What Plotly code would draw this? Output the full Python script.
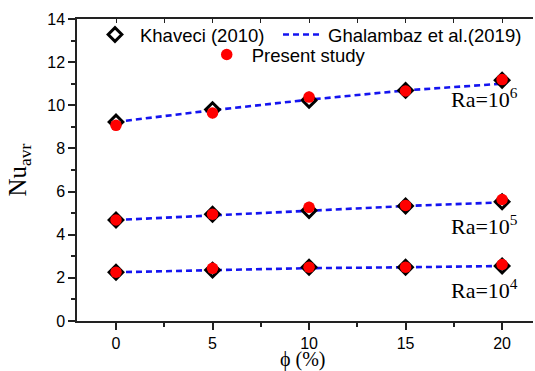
import plotly.graph_objects as go

phi = [0, 5, 10, 15, 20]
ra_labels = ["Ra=10<sup>6</sup>", "Ra=10<sup>5</sup>", "Ra=10<sup>4</sup>"]

khaveci = {
    "1e6": [9.23, 9.80, 10.23, 10.69, 11.16],
    "1e5": [4.68, 4.95, 5.12, 5.33, 5.53],
    "1e4": [2.26, 2.36, 2.49, 2.49, 2.55],
}
ghalambaz = {
    "1e6": [9.23, 9.77, 10.26, 10.69, 11.0],
    "1e5": [4.68, 4.91, 5.11, 5.33, 5.5],
    "1e4": [2.26, 2.36, 2.45, 2.49, 2.55],
}
present = {
    "1e6": [9.07, 9.64, 10.38, 10.66, 11.19],
    "1e5": [4.68, 4.95, 5.27, 5.36, 5.63],
    "1e4": [2.26, 2.44, 2.49, 2.49, 2.62],
}
keys = ["1e6", "1e5", "1e4"]
label_y = [10.33, 4.47, 1.48]

def joined(d):
    xs, ys = [], []
    for k in keys:
        xs += phi + [None]
        ys += d[k] + [None]
    return xs, ys

fig = go.Figure()
gx, gy = joined(ghalambaz)
fig.add_trace(go.Scatter(x=gx, y=gy, mode="lines", name="Ghalambaz et al.(2019)",
                         line=dict(color="#1414f0", width=2.6, dash="6px,4px"),
                         legend="legend2"))
kx, ky = joined(khaveci)
fig.add_trace(go.Scatter(x=kx, y=ky, mode="markers", name="Khaveci (2010)",
                         marker=dict(symbol="diamond", size=10.5, color="white",
                                     line=dict(color="black", width=3)),
                         legend="legend"))
px_, py_ = joined(present)
fig.add_trace(go.Scatter(x=px_, y=py_, mode="markers", name="Present study",
                         marker=dict(symbol="circle", size=11.5, color="#ff0000",
                                     line=dict(width=0)),
                         legend="legend3"))
# invisible trace to activate top mirror axis
fig.add_trace(go.Scatter(x=[None], y=[None], xaxis="x2", yaxis="y", showlegend=False,
                         hoverinfo="skip"))

for lab, yv in zip(ra_labels, label_y):
    fig.add_annotation(x=20.93, y=yv, text=lab, showarrow=False, xanchor="right",
                       yanchor="middle",
                       font=dict(family="Liberation Serif", size=22, color="black"))

# x-axis title as a paper annotation below the tick labels
fig.add_annotation(x=0.496, y=-0.127, xref="paper", yref="paper", text="ϕ (%)",
                   showarrow=False, xanchor="center", yanchor="middle",
                   font=dict(family="Liberation Serif", size=20, color="black"))

axis_common = dict(showline=True, linecolor="#222", linewidth=1.5, ticks="outside",
                   ticklen=7, tickwidth=1.5, tickcolor="#222", showgrid=False,
                   zeroline=False, mirror=False, automargin=False,
                   tickfont=dict(family="Liberation Sans", size=16, color="black"))
fig.update_xaxes(range=[-2.02, 21.6], tickvals=phi, **axis_common,
                 minor=dict(dtick=2.5, tick0=0, ticks="outside", ticklen=4, tickwidth=1.5, tickcolor="#222"))
fig.update_yaxes(range=[0, 14], dtick=2, **axis_common,
                 minor=dict(dtick=1, ticks="outside", ticklen=4, tickwidth=1.5, tickcolor="#222"),
                 title=dict(text="Nu<sub>avr</sub>", font=dict(family="Liberation Serif", size=25, color="black"), standoff=14))

legend_font = dict(family="Liberation Sans", size=18.5, color="black")
fig.update_layout(
    width=535, height=371,
    margin=dict(l=77, r=2, t=19, b=50),
    plot_bgcolor="white", paper_bgcolor="white",
    xaxis2=dict(overlaying="x", side="top", range=[-2.02, 21.6], showline=True,
                linecolor="#222", linewidth=1.5, ticks="inside", ticklen=4, tickwidth=1.2,
                tickcolor="#222", dtick=2.5, tick0=0, showticklabels=False, showgrid=False,
                zeroline=False, automargin=False),
    legend=dict(x=0.0285, y=0.947, xanchor="left", yanchor="middle", itemwidth=40,
                bgcolor="rgba(0,0,0,0)", font=legend_font),
    legend2=dict(x=0.4408, y=0.947, xanchor="left", yanchor="middle", itemwidth=40,
                 bgcolor="rgba(0,0,0,0)", font=legend_font),
    legend3=dict(x=0.2735, y=0.881, xanchor="left", yanchor="middle", itemwidth=40,
                 bgcolor="rgba(0,0,0,0)", font=legend_font),
)
fig.write_html("out.html")
